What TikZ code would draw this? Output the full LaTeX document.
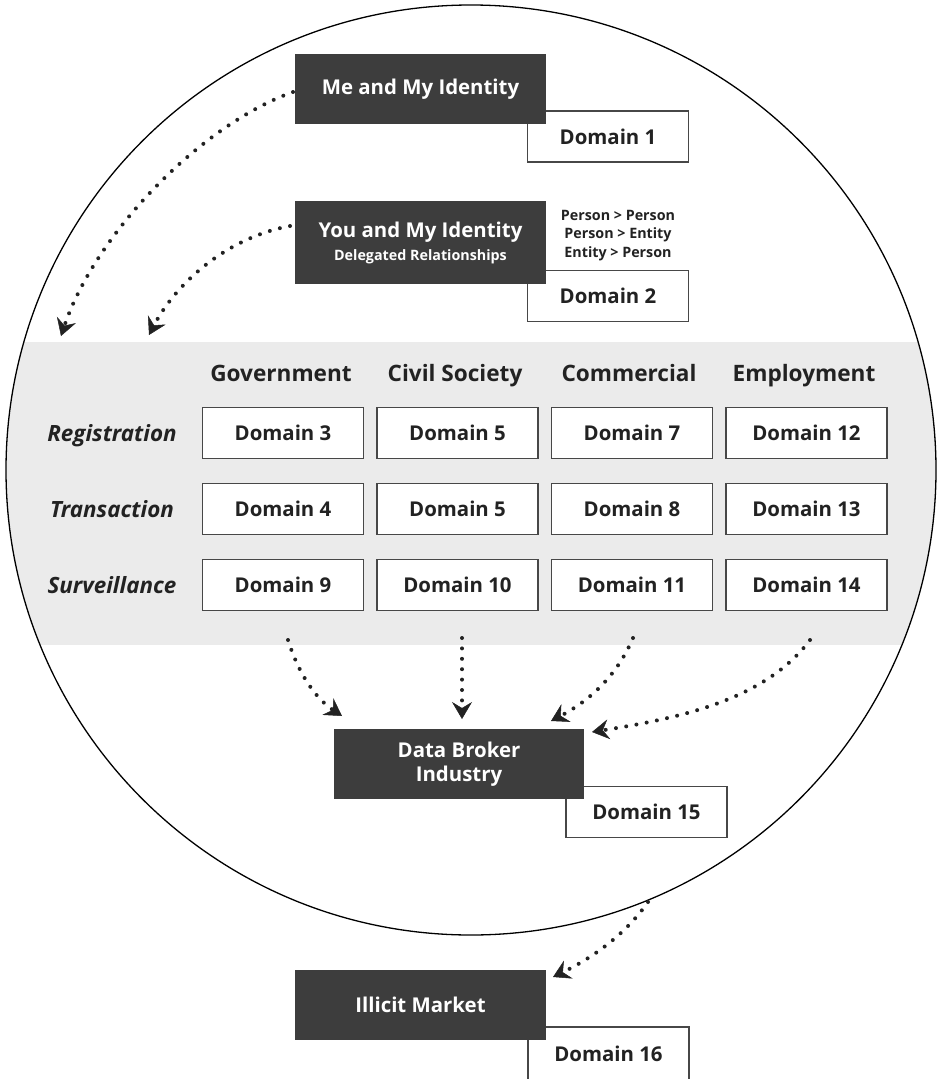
\documentclass[tikz,border=0pt]{standalone}
\usepackage{fontspec}
\setmainfont{Open Sans}
\usetikzlibrary{arrows.meta,calc}
\definecolor{boxdark}{HTML}{3D3D3D}
\definecolor{band}{HTML}{EBEBEB}
\definecolor{ink}{HTML}{222222}
\definecolor{edge}{HTML}{474747}

\begin{document}
\begin{tikzpicture}[x=1pt,y=-1pt,
  darkbox/.style={fill=boxdark, text=white, font=\bfseries\fontsize{20.4}{25}\selectfont,
    minimum width=251pt, minimum height=70pt, inner sep=0pt, align=center},
  domainbox/.style={draw=edge, line width=1.6pt, fill=white, text=ink,
    font=\bfseries\fontsize{20.4}{24}\selectfont, minimum width=161pt, minimum height=51pt, inner sep=0pt},
  colhead/.style={text=ink, font=\bfseries\fontsize{22.6}{26}\selectfont, inner sep=0pt, anchor=base},
  rowhead/.style={text=ink, font=\bfseries\itshape\fontsize{22.4}{26}\selectfont, inner sep=0pt, anchor=base},
  smalltext/.style={text=ink, font=\bfseries\fontsize{14.3}{18.5}\selectfont, align=center, inner sep=0pt},
  flow/.style={draw=ink, line width=4pt, dash pattern=on 0pt off 10.4pt, line cap=round,
    -{Stealth[length=17pt,width=20pt,inset=6pt,line width=0.5pt,sep=0pt]}},
]
\useasboundingbox (0,0) rectangle (941,1079);

% shaded band of the domain grid, kept inside the circle
\begin{scope}
  \clip (471,470) circle[radius=465];
  \fill[band] (0,342) rectangle (941,645);
\end{scope}
\draw[line width=1.3pt, black] (471,470) circle[radius=465];

% top two identity blocks
\node[domainbox] (d1) at (608,136.5) {Domain 1};
\node[darkbox] (me) at (420.5,89) {Me and My Identity};

\node[domainbox] (d2) at (608,296) {Domain 2};
\node[darkbox, minimum height=83pt] (you) at (420.5,242.5)
  {You and My Identity\\[-2pt]{\fontsize{14.3}{17}\selectfont Delegated Relationships}};
\node[smalltext] (rel) at (618,235.5) {Person > Person\\Person > Entity\\Entity > Person};

% column and row headings (placed on their baselines)
\node[colhead] (hgov) at (281,381) {Government};
\node[colhead] (hciv) at (455,381) {Civil Society};
\node[colhead] (hcom) at (629,381) {Commercial};
\node[colhead] (hemp) at (804,381) {Employment};
\node[rowhead] (hreg) at (112,441) {Registration};
\node[rowhead] (htra) at (112,517) {Transaction};
\node[rowhead] (hsur) at (112,593) {Surveillance};

% domain grid
\node[domainbox] (g3)  at (283,433)   {Domain 3};
\node[domainbox] (c5a) at (457.5,433) {Domain 5};
\node[domainbox] (m7)  at (632,433)   {Domain 7};
\node[domainbox] (e12) at (806.5,433) {Domain 12};
\node[domainbox] (g4)  at (283,509)   {Domain 4};
\node[domainbox] (c5b) at (457.5,509) {Domain 5};
\node[domainbox] (m8)  at (632,509)   {Domain 8};
\node[domainbox] (e13) at (806.5,509) {Domain 13};
\node[domainbox] (g9)  at (283,585)   {Domain 9};
\node[domainbox] (c10) at (457.5,585) {Domain 10};
\node[domainbox] (m11) at (632,585)   {Domain 11};
\node[domainbox] (e14) at (806.5,585) {Domain 14};

% data broker
\node[domainbox] (d15) at (646.5,812) {Domain 15};
\node[darkbox, minimum width=250pt] (broker) at (459,764) {Data Broker\\[-1pt]Industry};

% illicit market
\node[domainbox, minimum height=54pt] (d16) at (608.5,1054) {Domain 16};
\node[darkbox] (illicit) at (420.5,1005) {Illicit Market};

% connector end points
\coordinate (meout) at (293,92);
\coordinate (youout) at (290,226);
\coordinate (gridin1) at (61,336);
\coordinate (gridin2) at (149,335);
\coordinate (govout) at (288,640);
\coordinate (civout) at (462,638);
\coordinate (comout) at (633,638);
\coordinate (empout) at (810,640);
\coordinate (bin1) at (342,716);
\coordinate (bin2) at (462,719);
\coordinate (bin3) at (551,721);
\coordinate (bin4) at (592,732);
\coordinate (circout) at (648,902);
\coordinate (iin) at (553,977);

% dotted flows
\draw[flow] (meout) .. controls (200,125) and (95,235) .. (gridin1);
\draw[flow] (youout) .. controls (225,238) and (175,285) .. (gridin2);
\draw[flow] (govout) .. controls (300,678) and (318,700) .. (bin1);
\draw[flow] (civout) -- (bin2);
\draw[flow] (comout) .. controls (615,680) and (585,703) .. (bin3);
\draw[flow] (empout) .. controls (765,700) and (680,718) .. (bin4);
\draw[flow] (circout) .. controls (625,935) and (592,958) .. (iin);
\end{tikzpicture}
\end{document}
